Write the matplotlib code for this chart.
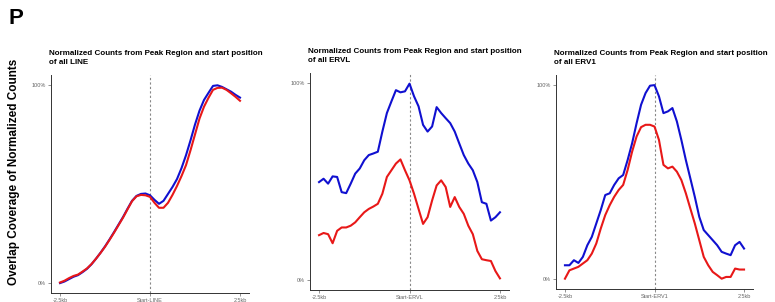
import numpy as np
import matplotlib
matplotlib.use("Agg")
import matplotlib.pyplot as plt

plt.rcParams['font.family'] = ['Liberation Sans', 'DejaVu Sans']

positions_kb = np.linspace(-2.5, 2.5, 41)

line_blue = [0, 0.8, 2, 3.2, 4, 5.5, 7.2, 9.5, 12.3, 15.3, 18.5, 22, 25.7, 29.5, 33.3,
             37.5, 41.5, 44, 45, 45.2, 44.3, 42, 40, 41.5, 45, 48.5, 52.5, 58, 64.5,
             72, 80, 87, 92.4, 96, 99.5, 99.8, 99, 97.8, 96.6, 95, 93.6]
line_red = [0.3, 1.2, 2.5, 3.6, 4.3, 5.8, 7.4, 9.6, 12.3, 15.2, 18.3, 21.8, 25.4, 29.2, 33.0,
            37.2, 41.3, 43.8, 44.5, 44.3, 43.5, 40.5, 38, 38, 40.5, 44.5, 49, 54, 59.5,
            67, 75, 83, 89, 93.5, 97.5, 98.5, 98.6, 97.5, 95.8, 94, 92]

ervl_blue = [49.7, 51.4, 48.9, 52.6, 52.3, 44.6, 44.1, 48.9, 54, 56.6, 60.8, 63.4, 64.2,
             65.1, 75.3, 84.7, 90.6, 96.3, 95.2, 95.7, 99.6, 93.2, 88.1, 78.7, 75.3, 77.9,
             87.7, 84.7, 82.1, 79.6, 75.3, 69.3, 63.4, 59.1, 55.7, 49.7, 39.5, 38.7, 30.2,
             31.9, 34.4]
ervl_red = [22.8, 23.9, 23.3, 18.7, 25, 26.7, 26.7, 27.6, 29.3, 31.9, 34.4, 36.1, 37.3,
            38.7, 43.8, 52.3, 55.7, 59.1, 61.2, 55.7, 50.6, 43.8, 36.1, 28.5, 31.9, 40.4,
            48, 50.6, 47.2, 37.1, 42.1, 37.1, 33.6, 27.6, 23.3, 14.8, 10.6, 10.1, 9.7,
            4.6, 0.9]

erv1_blue = [7.2, 7.2, 9.8, 8.4, 11.5, 17.5, 21.8, 28.7, 35.6, 43.3, 44.2, 48.5, 51.9,
             53.6, 61.3, 69.9, 80.2, 89.7, 95.7, 99.5, 99.8, 94, 85.4, 86.3, 88, 81.1,
             71.6, 61.3, 51.9, 42.4, 32.1, 25.3, 22.7, 20.1, 17.5, 14.1, 13.2, 12.4, 17.5,
             19.2, 15.8]
erv1_red = [0.3, 4.6, 5.5, 6.4, 8.1, 9.8, 13.2, 18.4, 26.1, 33, 38.1, 42.4, 45.9, 48.5,
            56.2, 65.6, 73.4, 78.2, 79.4, 79.4, 78.5, 71.6, 58.8, 57, 57.9, 55.3, 51,
            44.2, 36.4, 28.7, 20.1, 11.5, 7.2, 3.8, 2.1, 0.3, 1.2, 1.2, 5.5, 5, 5]

panel_titles = ["Normalized Counts from Peak Region and start position\nof all LINE",
                "Normalized Counts from Peak Region and start position\nof all ERVL",
                "Normalized Counts from Peak Region and start position\nof all ERV1"]
center_labels = ["Start-LINE", "Start-ERVL", "Start-ERV1"]
x_tick_values = [-2.5, 0, 2.5]
y_tick_values = [0, 100]
y_tick_labels = ["0%", "100%"]

W, H = 775, 302
fig = plt.figure(figsize=(W / 100, H / 100), dpi=100)

# axes boxes in pixels: left, right, top, bottom
boxes = [(51, 249, 75, 293), (310, 509, 73, 290), (556, 753, 75, 289)]
series = [(line_blue, line_red), (ervl_blue, ervl_red), (erv1_blue, erv1_red)]

for i, ((l, r, t, b), (blue, red)) in enumerate(zip(boxes, series)):
    ax = fig.add_axes([l / W, 1 - b / H, (r - l) / W, (b - t) / H])
    ax.plot(positions_kb, blue, color='#1010d0', lw=1.5, zorder=3)
    ax.plot(positions_kb, red, color='#e81818', lw=1.5, zorder=3)
    ax.axvline(0, color='#888888', lw=0.8, ls=(0, (2, 2)), zorder=2)
    ax.set_xlim(-2.75, 2.75)
    ax.set_ylim(-5, 105)
    ax.set_xticks(x_tick_values)
    ax.set_xticklabels(["-2.5kb", center_labels[i], "2.5kb"])
    ax.set_yticks(y_tick_values)
    ax.set_yticklabels(y_tick_labels)
    ax.tick_params(labelsize=4, colors='#666666', length=2, width=0.5, pad=1.5)
    for s in ['top', 'right']:
        ax.spines[s].set_visible(False)
    for s in ['left', 'bottom']:
        ax.spines[s].set_color('#333333')
        ax.spines[s].set_linewidth(0.7)
    ax.set_title(panel_titles[i], fontsize=5.75, fontweight='bold', loc='left',
                 x=-0.01, pad=8, linespacing=1.3)

fig.text(9 / W, 1 - 24 / H, "P", fontsize=16, fontweight='bold', ha='left', va='baseline')
fig.text(14 / W, 1 - 172 / H, "Overlap Coverage of Normalized Counts", fontsize=8.5,
         fontweight='bold', rotation=90, ha='center', va='center')

fig.savefig("out.png", dpi=100, facecolor='white')
